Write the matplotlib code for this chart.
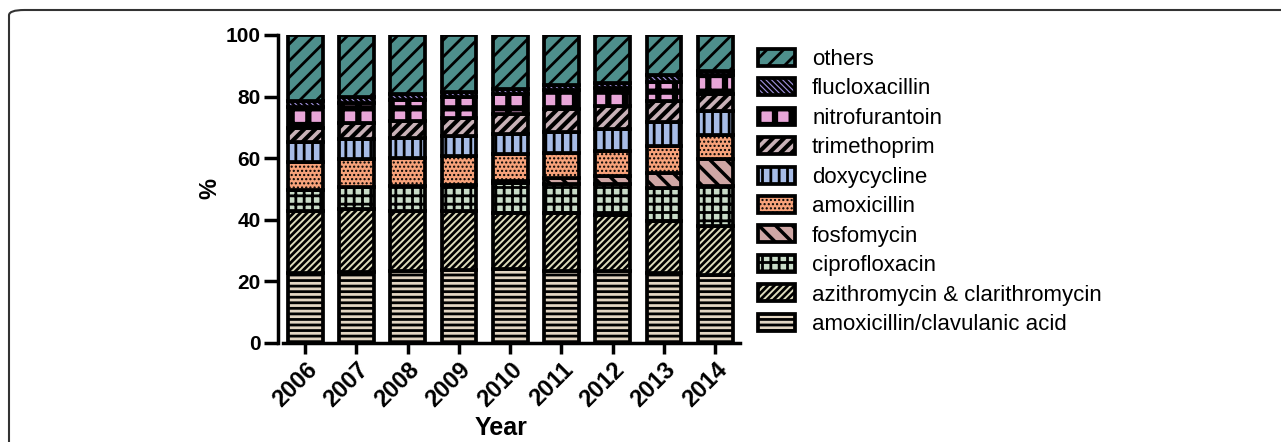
import numpy as np
import matplotlib.pyplot as plt
from matplotlib.patches import FancyBboxPatch

plt.rcParams['font.family'] = ['Liberation Sans', 'DejaVu Sans']
plt.rcParams['hatch.linewidth'] = 2.0

years = ['2006', '2007', '2008', '2009', '2010', '2011', '2012', '2013', '2014']

# cumulative tops (%), bottom to top
amox_clav_top = [22.7, 22.9, 23.4, 23.7, 24.1, 23.4, 23.4, 22.7, 22.1]
azithro_top   = [42.8, 43.6, 42.8, 42.8, 42.3, 42.3, 41.7, 39.5, 37.9]
cipro_top     = [49.7, 50.5, 50.8, 51.2, 51.9, 51.7, 51.5, 50.4, 51.0]
fosfo_top     = [49.7, 50.5, 50.8, 51.2, 52.6, 53.7, 54.2, 55.3, 59.7]
amox_top      = [58.6, 59.7, 59.9, 60.6, 61.3, 61.7, 62.4, 64.1, 67.5]
doxy_top      = [65.1, 66.2, 66.4, 67.3, 67.9, 68.6, 69.5, 71.7, 75.2]
trimeth_top   = [69.7, 71.4, 72.2, 73.0, 74.4, 76.0, 76.9, 78.4, 80.9]
nitro_top     = [76.6, 78.0, 78.8, 79.8, 80.9, 82.0, 82.8, 84.7, 86.9]
fluclox_top   = [78.4, 79.8, 80.9, 81.5, 82.4, 83.7, 84.5, 86.9, 88.2]
others_top    = [100, 100, 100, 100, 100, 100, 100, 100, 100]

labels = ['amoxicillin/clavulanic acid', 'azithromycin & clarithromycin',
          'ciprofloxacin', 'fosfomycin', 'amoxicillin', 'doxycycline',
          'trimethoprim', 'nitrofurantoin', 'flucloxacillin', 'others']
tops = [amox_clav_top, azithro_top, cipro_top, fosfo_top, amox_top,
        doxy_top, trimeth_top, nitro_top, fluclox_top, others_top]
colors = ['#e2d5c2', '#dedcbc', '#c9dcc8', '#cfa6a4', '#f7a27a',
          '#a7bce6', '#c9b2b8', '#e8a6d8', '#9f90dc', '#4e8f8c']
hatches = ['---', '/////', '++', '\\\\', '....', '||', '///', '+', '\\\\\\\\\\\\', '//']
hatch_lw = [2.0, 2.0, 2.0, 2.5, 1.0, 2.0, 3.0, 4.5, 2.0, 2.0]

fig = plt.figure(figsize=(12.81, 4.42), dpi=100)
ax = fig.add_axes([0.221, 0.224, 0.357, 0.697])
ax.spines['left'].set_position(('outward', 4))

# rounded frame around the figure
frame = FancyBboxPatch((9 / 1281, -0.2), 1.2, 1.2 - 10 / 442,
                       boxstyle='round,pad=0,rounding_size=0.012',
                       transform=fig.transFigure, fill=False,
                       edgecolor='#333333', linewidth=1.5, clip_on=False)
fig.patches.append(frame)

x = np.arange(len(years))
bottom = np.zeros(len(years))
handles = []
for lab, top, c, h, hl in zip(labels, tops, colors, hatches, hatch_lw):
    top = np.array(top, dtype=float)
    plt.rcParams['hatch.linewidth'] = hl
    b = ax.bar(x, top - bottom, 0.68, bottom=bottom, color=c, hatch=h,
               edgecolor='black', linewidth=2.7, label=lab)
    for p in b:
        if hasattr(p, 'set_hatch_linewidth'):
            p.set_hatch_linewidth(hl)
    handles.append(b)
    bottom = top

ax.set_xlim(-0.43, 8.49)
ax.set_ylim(0, 100)
ax.set_yticks([0, 20, 40, 60, 80, 100])
ax.set_yticklabels(['0', '20', '40', '60', '80', '100'], fontsize=15, fontweight='bold')
ax.set_xticks(x)
ax.set_xticklabels(years, rotation=45, ha='right', rotation_mode='anchor',
                   fontsize=17, fontweight='bold')
ax.tick_params(axis='y', length=10, width=2.5, pad=2)
ax.tick_params(axis='x', length=8, width=2.5, pad=3)
for s in ['top', 'right']:
    ax.spines[s].set_visible(False)
for s in ['left', 'bottom']:
    ax.spines[s].set_linewidth(2.5)
ax.set_ylabel('%', fontsize=17, fontweight='bold')
ax.yaxis.set_label_coords(-0.135, 0.5)
ax.set_xlabel('Year', fontsize=18, fontweight='bold')
ax.xaxis.set_label_coords(0.477, -0.238)

leg = fig.legend(handles[::-1], labels[::-1], loc='upper left',
                 bbox_to_anchor=(0.576, 0.935), frameon=False,
                 fontsize=16, labelspacing=0.37, handlelength=1.67,
                 handleheight=0.8, handletextpad=0.77)
for lh, hl in zip(leg.legend_handles, hatch_lw[::-1]):
    if hasattr(lh, 'set_hatch_linewidth'):
        lh.set_hatch_linewidth(hl)

fig.savefig('out.png', dpi=100)
